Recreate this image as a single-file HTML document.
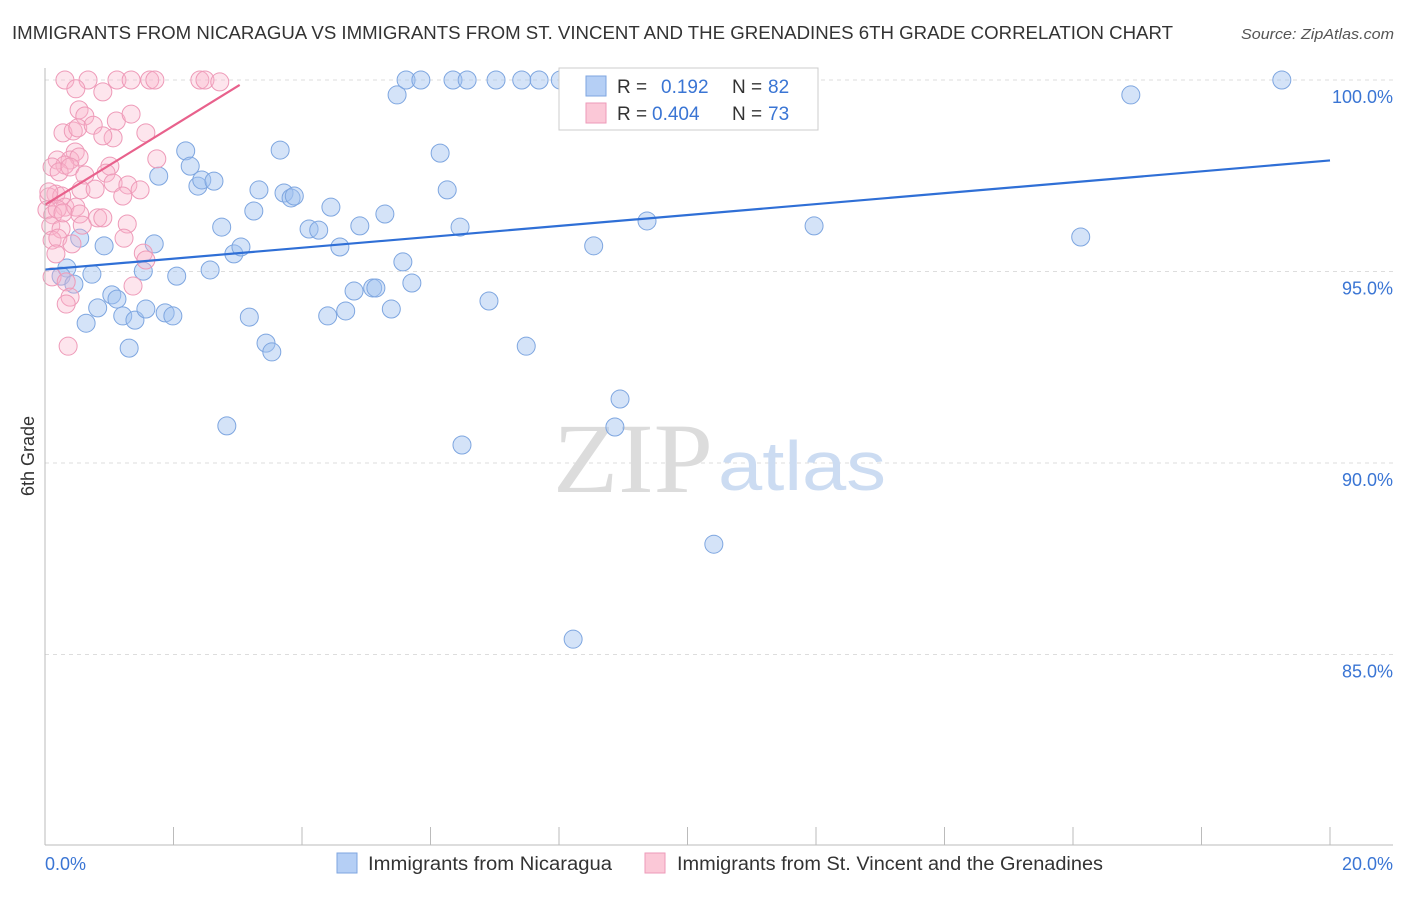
<!DOCTYPE html>
<html><head><meta charset="utf-8"><style>
body{margin:0;background:#fff;}
</style></head><body>
<svg id="chart" width="1406" height="892" font-family="Liberation Sans, sans-serif">
<text x="12" y="39" font-size="18" fill="#333" textLength="1161" lengthAdjust="spacingAndGlyphs">IMMIGRANTS FROM NICARAGUA VS IMMIGRANTS FROM ST. VINCENT AND THE GRENADINES 6TH GRADE CORRELATION CHART</text>
<text x="1241" y="39" font-size="15" fill="#555" font-style="italic" textLength="153" lengthAdjust="spacingAndGlyphs">Source: ZipAtlas.com</text>
<text x="34" y="456" font-size="18" fill="#333" text-anchor="middle" transform="rotate(-90 34 456)">6th Grade</text>
<g id="grid"></g>
<text x="553" y="492" font-size="100" fill="#dcdcdc" font-family="Liberation Serif, serif" textLength="160" lengthAdjust="spacingAndGlyphs">ZIP</text>
<text x="718" y="490" font-size="70" fill="#ccdcf2" textLength="168" lengthAdjust="spacingAndGlyphs">atlas</text>
<g id="pts"></g>
<g id="lines"></g>
<line x1="45" y1="68" x2="45" y2="845" stroke="#bbb"/>
<line x1="45" y1="845" x2="1393" y2="845" stroke="#bbb"/>
<text x="45" y="870" font-size="18" fill="#3a75d4">0.0%</text>
<text x="1393" y="870" font-size="18" fill="#3a75d4" text-anchor="end">20.0%</text>
<g>
<rect x="559" y="68" width="259" height="62" fill="#fff" stroke="#ccc"/>
<rect x="586" y="76" width="20" height="20" fill="#b5cff5" stroke="#7ea6e0"/>
<rect x="586" y="103" width="20" height="20" fill="#fbc8d7" stroke="#ee9ab8"/>
<text x="617" y="93" font-size="19" fill="#333">R =</text>
<text x="661" y="93" font-size="19" fill="#3a75d4">0.192</text>
<text x="732" y="93" font-size="19" fill="#333">N =</text>
<text x="768" y="93" font-size="19" fill="#3a75d4">82</text>
<text x="617" y="120" font-size="19" fill="#333">R =</text>
<text x="652" y="120" font-size="19" fill="#3a75d4">0.404</text>
<text x="732" y="120" font-size="19" fill="#333">N =</text>
<text x="768" y="120" font-size="19" fill="#3a75d4">73</text>
</g>
<g>
<rect x="337" y="853" width="20" height="20" fill="#b5cff5" stroke="#7ea6e0"/>
<text x="368" y="870" font-size="19" fill="#333" textLength="244" lengthAdjust="spacingAndGlyphs">Immigrants from Nicaragua</text>
<rect x="645" y="853" width="20" height="20" fill="#fbc8d7" stroke="#ee9ab8"/>
<text x="677" y="870" font-size="19" fill="#333" textLength="426" lengthAdjust="spacingAndGlyphs">Immigrants from St. Vincent and the Grenadines</text>
</g>
</svg>
<script>
const yTicks=[100,95,90,85];
const yTickLabels=["100.0%","95.0%","90.0%","85.0%"];
const xTickVals=[0,2,4,6,8,10,12,14,16,18,20];
const blueX=[0.34,0.25,0.45,0.73,0.64,0.82,1.04,1.12,1.21,1.40,1.31,0.92,0.54,1.70,1.77,2.19,2.26,2.38,2.44,2.63,2.57,2.05,1.87,1.99,1.57,1.53,2.75,2.94,3.05,3.25,3.18,3.44,3.53,2.83,3.66,3.33,3.72,3.83,3.88,4.11,4.26,4.45,4.59,4.40,4.68,4.81,4.90,5.10,5.15,5.29,5.39,5.57,5.71,5.48,5.62,5.85,6.35,6.57,7.02,7.42,7.69,8.02,6.15,6.26,6.46,6.91,7.49,6.49,8.22,8.54,8.95,8.87,9.37,10.41,11.97,16.12,16.90,19.25,10.02];
const blueY=[95.09,94.88,94.67,94.93,93.65,94.05,94.39,94.28,93.84,93.73,93.00,95.67,95.87,95.72,97.49,98.15,97.75,97.23,97.39,97.36,95.04,94.88,93.92,93.84,94.02,95.01,96.16,95.46,95.64,96.58,93.81,93.13,92.90,90.97,98.17,97.13,97.05,96.92,96.97,96.11,96.08,96.68,95.64,93.84,93.97,94.49,96.19,94.57,94.57,96.50,94.02,95.25,94.70,99.61,100,100,100,100,100,100,100,100,98.09,97.13,96.16,94.23,93.05,90.47,85.40,95.67,91.67,90.94,96.32,87.88,96.19,95.90,99.61,100,100];
const pinkX=[.31,.67,.48,.90,1.12,1.34,1.63,1.71,2.41,2.49,2.72,.53,.62,.28,.44,.51,.75,1.11,1.34,1.06,.90,1.57,.47,.19,.39,.53,.31,.11,.22,.39,1.01,.95,1.74,.62,.56,.78,1.06,1.29,1.48,1.21,.17,.06,.26,.31,.03,.12,.48,.54,.58,.82,.90,1.28,.09,.25,.11,.20,.42,1.23,1.53,1.57,.17,.11,.33,1.37,.39,.33,.36,.19,.28,.06];
const pinkY=[100,100,99.77,99.69,100,100,100,100,100,100,99.95,99.22,99.06,98.62,98.67,98.75,98.82,98.93,99.11,98.49,98.54,98.62,98.12,97.91,97.91,97.99,97.78,97.73,97.60,97.73,97.75,97.57,97.94,97.52,97.13,97.15,97.31,97.26,97.13,96.97,97.02,96.95,96.97,96.68,96.61,96.48,96.68,96.50,96.21,96.40,96.40,96.24,96.19,96.11,95.82,95.87,95.72,95.87,95.48,95.30,95.46,94.86,94.73,94.62,94.33,94.15,93.05,96.63,96.53,97.08];
const blueTrend=[[0,95.05],[20,97.9]];
const pinkTrend=[[0,96.74],[3.03,99.87]];
const NS='http://www.w3.org/2000/svg';
const sx=v=>45+v*64.25, sy=v=>80+(100-v)*38.3;
function mk(t,a,p){const e=document.createElementNS(NS,t);for(const k in a)e.setAttribute(k,a[k]);p.appendChild(e);return e;}
const grid=document.getElementById('grid');
yTicks.forEach((v,i)=>{
 const l=mk('line',{x1:45,x2:1393,y1:sy(v),y2:sy(v),stroke:'#ddd','stroke-dasharray':'4,4'},grid);
 
 
 const t=mk('text',{x:1393,y:sy(v)+23,'font-size':18,fill:'#3a75d4','text-anchor':'end'},grid);
 t.textContent=yTickLabels[i];
 
 
});
xTickVals.forEach(v=>{
 const l=mk('line',{x1:sx(v),x2:sx(v),y1:827,y2:845,stroke:'#bbb'},grid);
 
 
});
const pts=document.getElementById('pts');
blueX.forEach((x,i)=>{
 const c=mk('circle',{cx:sx(x),cy:sy(blueY[i]),r:9,fill:'rgba(160,192,240,0.45)',stroke:'#7ea6e0','stroke-width':1},pts);
 
 
});
pinkX.forEach((x,i)=>{
 const c=mk('circle',{cx:sx(x),cy:sy(pinkY[i]),r:9,fill:'rgba(248,180,202,0.35)',stroke:'#ee9ab8','stroke-width':1},pts);
 
 
});
const lines=document.getElementById('lines');
const bl=mk('line',{x1:sx(blueTrend[0][0]),y1:sy(blueTrend[0][1]),x2:sx(blueTrend[1][0]),y2:sy(blueTrend[1][1]),stroke:'#2f6fd6','stroke-width':2.2},lines);


const pl=mk('line',{x1:sx(pinkTrend[0][0]),y1:sy(pinkTrend[0][1]),x2:sx(pinkTrend[1][0]),y2:sy(pinkTrend[1][1]),stroke:'#e8618c','stroke-width':2.2},lines);


</script>
</body></html>
